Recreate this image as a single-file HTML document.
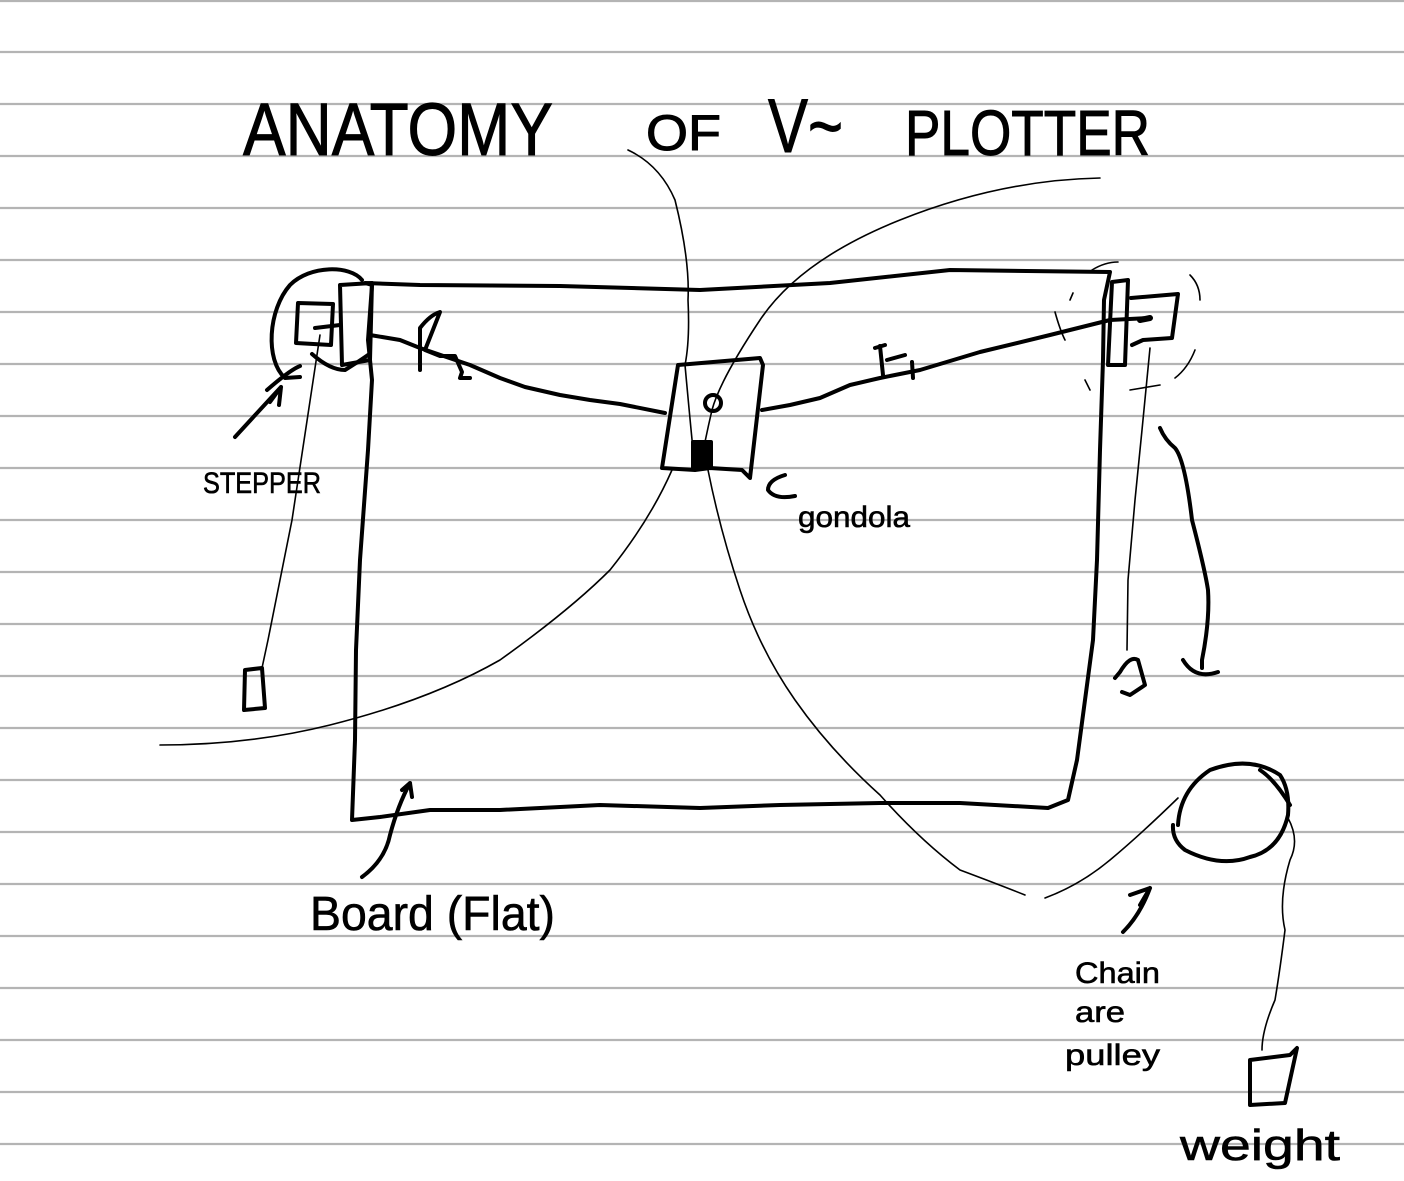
<!DOCTYPE html>
<html><head><meta charset="utf-8"><style>
html,body{margin:0;padding:0;background:#fff;}
svg{display:block;}
text{font-family:"Liberation Sans",sans-serif;fill:#000;}
</style></head><body>
<svg width="1404" height="1181" viewBox="0 0 1404 1181" xmlns="http://www.w3.org/2000/svg">
<g stroke="#b4b4b4" stroke-width="2.2">
<line x1="0" y1="1" x2="1404" y2="1"/>
<line x1="0" y1="52" x2="1404" y2="52"/><line x1="0" y1="104" x2="1404" y2="104"/>
<line x1="0" y1="156" x2="1404" y2="156"/><line x1="0" y1="208" x2="1404" y2="208"/>
<line x1="0" y1="260" x2="1404" y2="260"/><line x1="0" y1="312" x2="1404" y2="312"/>
<line x1="0" y1="364" x2="1404" y2="364"/><line x1="0" y1="416" x2="1404" y2="416"/>
<line x1="0" y1="468" x2="1404" y2="468"/><line x1="0" y1="520" x2="1404" y2="520"/>
<line x1="0" y1="572" x2="1404" y2="572"/><line x1="0" y1="624" x2="1404" y2="624"/>
<line x1="0" y1="676" x2="1404" y2="676"/><line x1="0" y1="728" x2="1404" y2="728"/>
<line x1="0" y1="780" x2="1404" y2="780"/><line x1="0" y1="832" x2="1404" y2="832"/>
<line x1="0" y1="884" x2="1404" y2="884"/><line x1="0" y1="936" x2="1404" y2="936"/>
<line x1="0" y1="988" x2="1404" y2="988"/><line x1="0" y1="1040" x2="1404" y2="1040"/>
<line x1="0" y1="1092" x2="1404" y2="1092"/><line x1="0" y1="1144" x2="1404" y2="1144"/>
</g>

<!-- title -->
<text x="243" y="155" font-size="74" stroke="#000" stroke-width="1" textLength="310" lengthAdjust="spacingAndGlyphs">ANATOMY</text>
<text x="646" y="150" font-size="50" stroke="#000" stroke-width="1" textLength="75" lengthAdjust="spacingAndGlyphs">OF</text>
<text x="768" y="152" font-size="76" stroke="#000" stroke-width="1" textLength="75" lengthAdjust="spacingAndGlyphs">V~</text>
<text x="905" y="155" font-size="64" stroke="#000" stroke-width="1" textLength="245" lengthAdjust="spacingAndGlyphs">PLOTTER</text>

<g fill="none" stroke="#000" stroke-width="4" stroke-linecap="round" stroke-linejoin="round">
<!-- board -->
<path d="M365 283 L420 285 L560 286 L700 290 L830 283 L950 270 L1110 272 L1104 300 L1103 360 L1100 450 L1097 560 L1093 640 L1085 700 L1077 760 L1068 800 L1048 808 L960 803 L880 803 L780 805 L700 808 L600 805 L500 810 L430 810 L380 817 L352 820 L355 740 L356 650 L360 560 L368 450 L372 380 L368 340 L372 285 Z"/>
<!-- left stepper -->
<path d="M340 285 L372 283 L370 360 L342 365 Z"/>
<path d="M298 303 L333 304 L331 345 L296 343 Z"/>
<path d="M315 328 L340 325"/>
<path d="M362 280 C350 265 310 265 290 285 C268 310 265 360 285 378 L300 377"/>
<path d="M267 390 Q290 370 300 366 M235 437 L281 387 L270 402 M281 387 L279 405"/>
<path d="M312 354 Q330 370 345 370 Q358 362 368 355"/>
<path d="M370 335 L400 340 L420 348 L470 365 L500 378 L525 387 L560 395 L590 400 L620 404 L665 413"/>
<!-- R2 -->
<path d="M420 370 L420 328 Q430 315 440 312 L425 350 L440 356 L455 356 L462 372 L460 378 L470 378"/>
<!-- gondola -->
<path d="M678 365 L760 358 L763 365 L750 478 L742 470 L710 468 L695 470 L662 468 Z"/>
<circle cx="713" cy="403" r="8"/>
<rect x="693" y="442" width="18" height="26" fill="#000"/>
<path d="M762 410 L790 405 L820 398 L850 385 L880 378 L920 370 L980 352 L1050 335 L1110 320 L1150 318"/>
<!-- R1 -->
<path d="M875 348 L885 345 M880 346 L883 375 M887 360 L905 355 M912 362 L913 378"/>
<!-- right stepper -->
<path d="M1112 282 L1128 280 L1125 365 L1108 365 Z"/>
<path d="M1131 298 L1178 294 L1172 338 L1143 340 L1132 345"/>
<path d="M1150 318 L1140 320" stroke-width="6"/>
<!-- right weight -->
<path d="M1120 672 Q1130 655 1138 660 L1145 685 L1130 695 L1122 692 M1120 672 L1115 678"/>
<path d="M1160 428 Q1165 440 1175 448 Q1185 460 1192 520 Q1205 570 1208 590 Q1210 620 1202 660 L1202 668 M1183 660 Q1195 680 1218 672"/>
<!-- left weight -->
<path d="M245 670 L262 668 L265 708 L244 710 Z"/>
<!-- gondola label -->
<path d="M785 475 Q768 480 768 490 Q775 500 795 496"/>
<!-- board arrow -->
<path d="M362 877 Q385 860 390 835 Q398 805 410 783 L402 790 M410 783 L412 797"/>
<!-- pulley -->
<path d="M1178 825 Q1180 790 1210 770 Q1250 755 1280 775 Q1290 790 1288 815 Q1280 850 1250 857 Q1220 868 1185 850 Q1172 840 1173 825"/>
<path d="M1260 770 Q1275 780 1290 805"/>
<path d="M1168 932 Q1185 915 1195 888 L1175 895 M1195 888 L1185 905" transform="translate(-45,0)"/>
<!-- weight -->
<path d="M1250 1060 L1290 1055 Q1295 1050 1297 1048 L1285 1103 L1250 1105 Z"/>
</g>

<g fill="none" stroke="#000" stroke-width="1.6" stroke-linecap="round">
<path d="M628 150 Q660 165 675 200 Q690 260 688 300 Q690 340 685 365 Q690 420 695 470"/>
<path d="M708 470 Q720 530 740 590 Q760 650 795 700 Q830 750 880 795 Q920 840 960 870 Q1000 885 1025 895"/>
<path d="M1100 178 Q1000 180 900 220 Q800 260 760 320 Q720 380 712 410 Q705 440 700 468"/>
<path d="M672 470 Q650 520 610 570 Q570 610 500 660 Q430 700 330 725 Q250 745 160 745"/>
<path d="M320 335 L292 520 L268 640 L262 668"/>
<path d="M1150 348 L1142 430 L1135 500 L1128 580 L1127 650"/>
<path d="M1045 898 Q1080 885 1110 860 Q1140 835 1178 798"/>
<path d="M1288 818 Q1300 840 1290 860 Q1278 900 1285 930 Q1280 970 1275 1000 Q1262 1030 1262 1050"/>
<path d="M1055 312 Q1060 330 1065 340 M1073 293 L1070 300 M1092 270 Q1105 262 1118 262 M1190 275 Q1200 285 1200 300 M1195 350 Q1188 368 1175 378 M1130 390 L1160 385 M1085 380 L1090 390"/>
</g>

<g font-size="30" stroke="#000" stroke-width="0.6">
<text x="203" y="493" textLength="118" lengthAdjust="spacingAndGlyphs">STEPPER</text>
<text x="798" y="527" textLength="112" lengthAdjust="spacingAndGlyphs">gondola</text>
<text x="310" y="930" font-size="48" textLength="245" lengthAdjust="spacingAndGlyphs">Board (Flat)</text>
<text x="1075" y="983" textLength="85" lengthAdjust="spacingAndGlyphs">Chain</text>
<text x="1075" y="1022" textLength="50" lengthAdjust="spacingAndGlyphs">are</text>
<text x="1065" y="1065" textLength="95" lengthAdjust="spacingAndGlyphs">pulley</text>
<text x="1180" y="1160" font-size="44" textLength="160" lengthAdjust="spacingAndGlyphs">weight</text>
</g>
</svg>
</body></html>
